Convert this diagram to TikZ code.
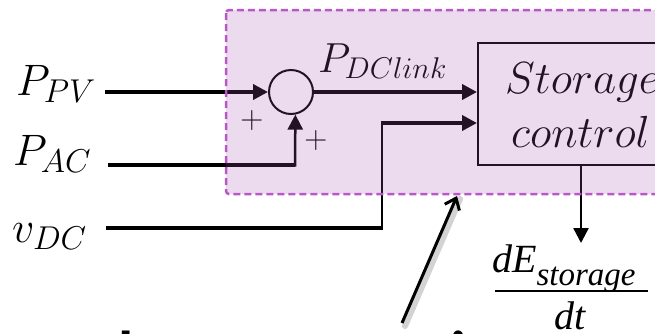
\RequirePackage{fix-cm}
\documentclass[tikz,border=0pt]{standalone}
\usepackage{fontspec}
\usetikzlibrary{arrows.meta}
\newfontfamily\timesfont{Liberation Serif}
\newfontfamily\calibfont{Carlito}
\DeclareMathSizes{44}{44}{33}{25}
\DeclareMathSizes{42}{42}{30}{22}
\DeclareMathSizes{45}{45}{33}{25}
\definecolor{veil}{RGB}{167,86,181}
\definecolor{dashc}{RGB}{184,88,200}
\begin{document}
\begin{tikzpicture}[x=1pt,y=-1pt,
  sig/.style={line width=4pt},
  thin sig/.style={line width=2.5pt},
  tip/.style={-{Triangle[length=15pt,width=15pt]}},
  lbl/.style={anchor=base west,inner sep=0pt,font=\fontsize{44}{48}\selectfont},
  plus/.style={inner sep=0pt,font=\fontsize{32}{34}\selectfont},
  block/.style={draw,line width=2pt,anchor=north west,minimum width=250pt,minimum height=122pt,inner sep=0pt}]
\useasboundingbox (0,0) rectangle (655,333);
\clip (0,0) rectangle (655,333);

% summing junction and storage controller
\node[draw,circle,line width=2pt,minimum size=44pt,inner sep=0pt] (sum) at (291,92) {};
\node[block] (ctrl) at (477,42) {};
\node[anchor=base west,inner sep=0pt,font=\fontsize{45}{48}\selectfont] (stor) at (505,93) {$Storage$};
\node[anchor=base west,inner sep=0pt,font=\fontsize{45}{48}\selectfont] (ctl) at (511,147) {$control$};

% input labels
\node[lbl] (ppv) at (16,95) {$P_{PV}$};
\node[lbl] (pac) at (13,165) {$P_{AC}$};
\node[lbl] (vdc) at (12,242) {$v_{DC}$};
\node[anchor=base west,inner sep=0pt,font=\fontsize{42}{46}\selectfont] (pdc) at (318,72) {$P_{DClink}$};
\node[plus] (plus1) at (252,120) {$+$};
\node[plus] (plus2) at (316,140) {$+$};

% signal wiring
\coordinate (ppvin) at (105,92);
\coordinate (pacin) at (108,165);
\coordinate (vdcin) at (106,228);
\coordinate (vbend) at (382,228);
\coordinate (vtop) at (382,123);
\coordinate (outtip) at (581,243);
\draw[sig,tip] (ppvin) -- (sum.west);
\draw[sig] (pacin) -- (295,165);
\draw[thin sig,tip] (295,166.5) -- (sum.-79);
\draw[sig,tip] (sum.east) -- (sum.east -| ctrl.west);
\draw[sig] (vdcin) -- (vbend);
\draw[thin sig] (vbend) ++(0,2) -- (vtop);
\draw[sig,tip] (vtop) ++(-1.2,0) -- (vtop -| ctrl.west);
\draw[thin sig,tip] (ctrl.south -| outtip) -- (outtip);

% translucent veil of the controller region
\fill[veil,opacity=0.21,rounded corners=3pt] (226,10) rectangle (720,194);
\draw[dashc,line width=2.5pt,dash pattern=on 7pt off 4pt,rounded corners=3pt] (226,10) rectangle (720,194);

% rate of change of stored energy
\node[anchor=base west,inner sep=0pt,font=\timesfont\itshape\fontsize{40}{40}\selectfont] (dnum) at (492,272)
  {dE\raisebox{-13pt}{\fontsize{33}{33}\selectfont storage}};
\draw[line width=2.2pt] (495,291) -- (648,291);
\node[anchor=base west,inner sep=0pt,font=\timesfont\itshape\fontsize{40}{40}\selectfont] (dden) at (554,329) {dt};

% caption pointer
\coordinate (ptail) at (402,323);
\coordinate (phead) at (457,196);
\draw[gray,opacity=0.35,line width=6pt,line cap=round] ([shift={(3,3)}]ptail) -- ([shift={(3,3)}]phead);
\draw[line width=3pt,-{Straight Barb[length=10pt,width=16pt,line width=3pt]}] (ptail) -- (phead);

% caption
\node[anchor=base west,inner sep=0pt,font=\calibfont\bfseries\fontsize{62}{62}\selectfont] (cap) at (100,374) {data aggregation};
\end{tikzpicture}
\end{document}
